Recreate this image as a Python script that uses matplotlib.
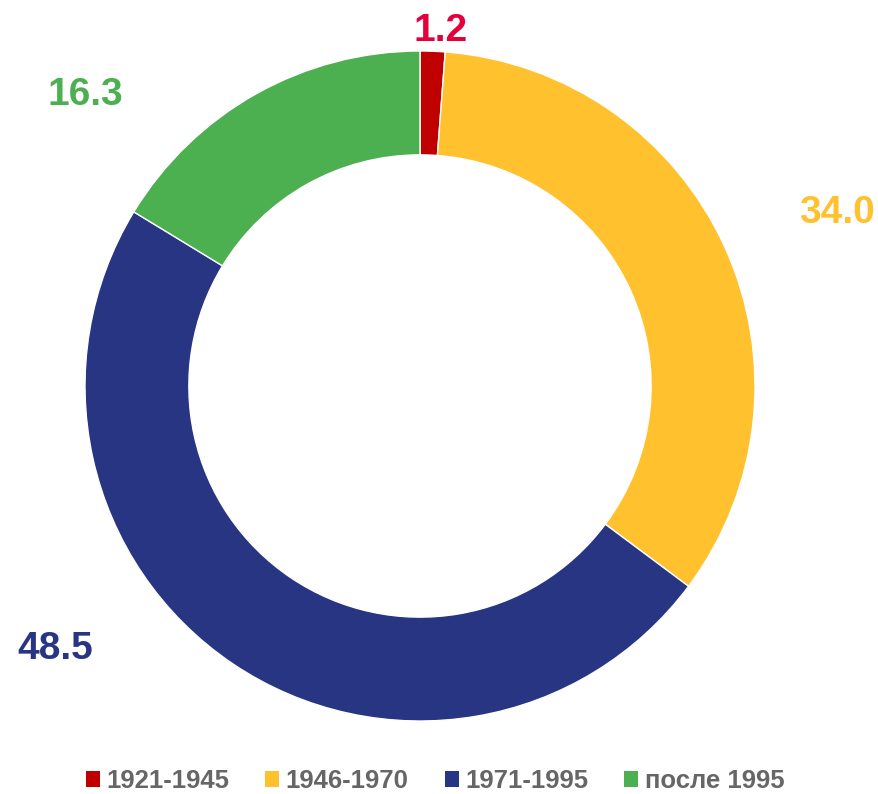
import matplotlib.pyplot as plt
from matplotlib.patches import Patch

# данные
periods = ['1921-1945', '1946-1970', '1971-1995', 'после 1995']
shares = [1.2, 34.0, 48.5, 16.3]
colors = ['#C00000', '#FFC12E', '#283583', '#4CAF50']
label_colors = ['#E4003A', '#FFC12E', '#283583', '#4CAF50']
label_pos = [(0.06, 1.06), (1.245, 0.515), (-1.09, -0.785), (-1.0, 0.868)]

plt.rcParams['font.family'] = ['Liberation Sans', 'DejaVu Sans']

fig = plt.figure(figsize=(8.79, 7.94), dpi=100)
ax = fig.add_axes([85 / 879, 73 / 794, 670 / 879, 670 / 794])

ax.pie(shares, colors=colors, startangle=90, counterclock=False, radius=1,
       wedgeprops=dict(width=0.31, edgecolor='white', linewidth=1))
ax.set_xlim(-1, 1)
ax.set_ylim(-1, 1)
ax.set_aspect('equal')
ax.axis('off')

# подписи значений
for v, c, (x, y) in zip(shares, label_colors, label_pos):
    ax.text(x, y, f'{v:.1f}', color=c, fontsize=28, fontweight='bold',
            ha='center', va='center')

handles = [Patch(facecolor=c, edgecolor='none') for c in colors]
leg = fig.legend(handles, periods, loc='center', bbox_to_anchor=(435 / 879, 1 - 781 / 794),
                 ncol=4, frameon=False, handlelength=0.55, handleheight=0.55,
                 handletextpad=0.25, columnspacing=1.4, borderpad=0,
                 prop={'size': 18.5, 'weight': 'bold'})
for t in leg.get_texts():
    t.set_color('#666666')

fig.savefig('out.png', dpi=100)
